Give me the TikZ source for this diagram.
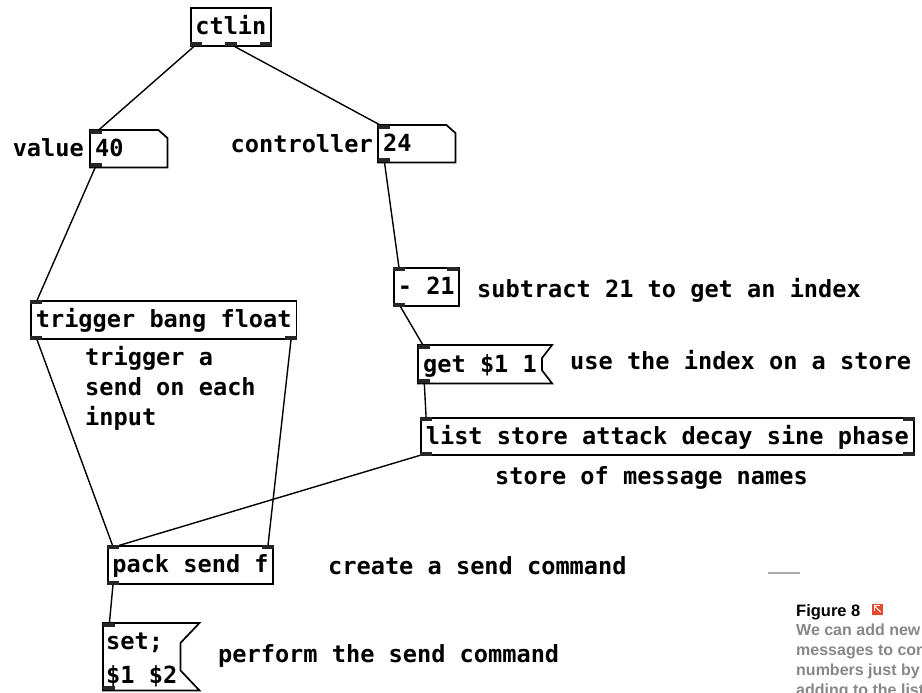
\documentclass[tikz,border=0pt]{standalone}
\usepackage{fontspec}
\newfontfamily\pdmono{DejaVu Sans Mono}
\newfontfamily\capsans{Liberation Sans}
\usetikzlibrary{calc}

\newcommand{\pdfont}{\pdmono\bfseries\fontsize{23.6}{34}\selectfont}
\definecolor{iconred}{RGB}{232,72,44}
\definecolor{capgray}{RGB}{135,135,135}

\tikzset{
  pdobj/.style={draw, line width=1.7pt, anchor=north west, font=\pdfont, inner xsep=5pt, inner ysep=0pt, text height=21pt, text depth=5pt, minimum height=38pt},
  pdbare/.style={anchor=north west, font=\pdfont, inner xsep=5pt, inner ysep=0pt, text height=21pt, text depth=5pt, minimum height=37pt, align=left},
  pdoutline/.style={line width=1.7pt, line join=miter},
  pdcomment/.style={anchor=base west, font=\pdfont, inner sep=0pt},
  iolet/.style={fill=black!85, inner sep=0pt, minimum width=12pt, minimum height=4pt},
  wire/.style={line width=1.4pt}
}

\begin{document}
\begin{tikzpicture}[x=1pt, y=-1pt]
        \useasboundingbox (0,0) rectangle (922,693);
        \fill[white] (0,0) rectangle (922,693);
        \clip (0,0) rectangle (922,693);

        % Objects
        \node (ctlin) [pdobj, inner xsep=4.5pt] at (190,7) {ctlin};
        \node (val) [pdbare, text width=67pt] at (90,130) {40};
        \node (ctl) [pdbare, text width=67pt] at (378,125) {24};
        \node (sub) [pdobj, inner xsep=4pt] at (393,267) {- 21};
        \node (get) [pdbare, minimum height=38pt] at (418,345) {get \$1 1};
        \node (list) [pdobj, minimum height=37pt] at (420,417) {list store attack decay sine phase};
        \node (trig) [pdobj] at (30,300) {trigger bang float};
        \node (pack) [pdobj, inner xsep=4.5pt] at (107,545) {pack send f};
        \node (set) [anchor=north west, font=\pdfont, align=left, inner xsep=3pt, inner ysep=0pt, minimum height=67pt] at (103,623) {\rule{0pt}{24pt}set;\\\$1 \$2};

        % Number box and message box outlines
        \draw[pdoutline] (val.north west) -- ($(val.north east)+(-9,0)$) -- ($(val.north east)+(0,8)$) -- (val.south east) -- (val.south west) -- cycle;
        \draw[pdoutline] (ctl.north west) -- ($(ctl.north east)+(-9,0)$) -- ($(ctl.north east)+(0,8)$) -- (ctl.south east) -- (ctl.south west) -- cycle;
        \draw[pdoutline] (get.north west) -- ($(get.north east)+(10,0)$) -- ($(get.north east)+(0,13)$) -- ($(get.south east)+(0,-13)$) -- ($(get.south east)+(10,0)$) -- (get.south west) -- cycle;
        \draw[pdoutline] (set.north west) -- ($(set.north east)+(19,0)$) -- ($(set.north east)+(0,20)$) -- ($(set.south east)+(0,-20)$) -- ($(set.south east)+(19,0)$) -- (set.south west) -- cycle;

        % Labels and comments
        \node (vallabel) [pdcomment, anchor=base east] at (84,156) {value};
        \node (ctllabel) [pdcomment, anchor=base east] at (373,152) {controller};
        \node (subcom) [pdcomment] at (477,297) {subtract 21 to get an index};
        \node (getcom) [pdcomment] at (570,369) {use the index on a store};
        \node (listcom) [pdcomment] at (495,484) {store of message names};
        \node (trigcom) [pdcomment, anchor=north west, align=left, font=\pdmono\bfseries\fontsize{23.6}{30}\selectfont] at (85,346) {trigger a\\send on each\\input};
        \node (packcom) [pdcomment] at (328,574) {create a send command};
        \node (setcom) [pdcomment] at (218,662) {perform the send command};

        % Inlets and outlets
        \node (ctlin-o0) [iolet, anchor=south west] at (ctlin.south west) {};
        \node (ctlin-o1) [iolet, anchor=south] at (ctlin.south) {};
        \node (ctlin-o2) [iolet, anchor=south east] at (ctlin.south east) {};
        \node (val-i0) [iolet, anchor=north west] at (val.north west) {};
        \node (val-o0) [iolet, anchor=south west] at (val.south west) {};
        \node (ctl-i0) [iolet, anchor=north west] at (ctl.north west) {};
        \node (ctl-o0) [iolet, anchor=south west] at (ctl.south west) {};
        \node (sub-i0) [iolet, anchor=north west] at (sub.north west) {};
        \node (sub-i1) [iolet, anchor=north east] at (sub.north east) {};
        \node (sub-o0) [iolet, anchor=south west] at (sub.south west) {};
        \node (get-i0) [iolet, anchor=north west] at (get.north west) {};
        \node (get-o0) [iolet, anchor=south west] at (get.south west) {};
        \node (list-i0) [iolet, anchor=north west] at (list.north west) {};
        \node (list-i1) [iolet, anchor=north east] at (list.north east) {};
        \node (list-o0) [iolet, anchor=south west] at (list.south west) {};
        \node (list-o1) [iolet, anchor=south east] at (list.south east) {};
        \node (trig-i0) [iolet, anchor=north west] at (trig.north west) {};
        \node (trig-o0) [iolet, anchor=south west] at (trig.south west) {};
        \node (trig-o1) [iolet, anchor=south east] at (trig.south east) {};
        \node (pack-i0) [iolet, anchor=north west] at (pack.north west) {};
        \node (pack-i1) [iolet, anchor=north east] at (pack.north east) {};
        \node (pack-o0) [iolet, anchor=south west] at (pack.south west) {};
        \node (set-i0) [iolet, anchor=north west] at (set.north west) {};
        \node (set-o0) [iolet, anchor=south west] at (set.south west) {};

        % Connections
        \draw[wire] (ctlin-o0) -- (val-i0);
        \draw[wire] (ctlin-o1) -- (ctl-i0);
        \draw[wire] (val-o0) -- (trig-i0);
        \draw[wire] (ctl-o0) -- (sub-i0);
        \draw[wire] (sub-o0) -- (get-i0);
        \draw[wire] (get-o0) -- (list-i0);
        \draw[wire] (trig-o0) -- (pack-i0);
        \draw[wire] (trig-o1) -- (pack-i1);
        \draw[wire] (list-o0) -- (pack-i0);
        \draw[wire] (pack-o0) -- (set-i0);

        % Caption
        \draw[capgray!70, line width=1.5pt] (768,573) -- (800,573);
        \node (figtitle) [anchor=base west, inner sep=0pt, font=\capsans\bfseries\fontsize{16.5}{20}\selectfont] at (796,616) {Figure 8};
        \node (icon) [fill=iconred, inner sep=0pt, minimum size=11pt, anchor=west] at (872,609) {};
        \draw[white, line width=1.1pt] ($(icon.south east)+(-2.5,-2.5)$) -- ($(icon.north west)+(2.5,2.5)$);
        \draw[white, line width=1.1pt] ($(icon.north west)+(2.5,7.5)$) -- ($(icon.north west)+(2.5,2.5)$) -- ($(icon.north west)+(7.5,2.5)$);
        \node (figtext) [anchor=north west, inner sep=0pt, align=left, text=capgray, font=\capsans\bfseries\fontsize{16}{20}\selectfont] at (796,624) {We can add new\\messages to cont\\numbers just by\\adding to the list};
    \end{tikzpicture}
\end{document}
